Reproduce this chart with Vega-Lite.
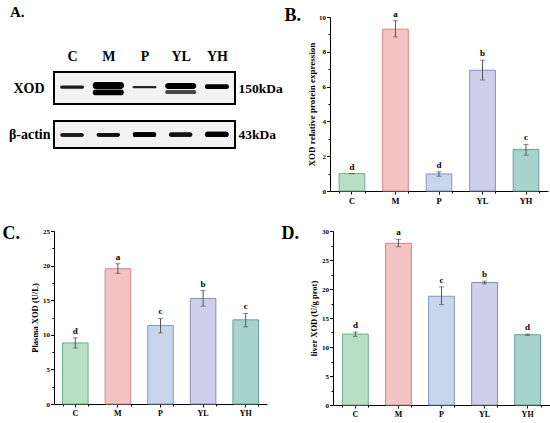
{
  "$schema": "https://vega.github.io/schema/vega-lite/v6.json",
  "background": "white",
  "padding": {"left": 2, "top": 5, "right": 0, "bottom": 0},
  "config": {
    "font": "Liberation Serif",
    "view": {"stroke": null},
    "axis": {
      "labelFont": "Liberation Serif",
      "titleFont": "Liberation Serif",
      "labelFontWeight": "bold",
      "titleFontWeight": "bold",
      "labelColor": "black",
      "titleColor": "black",
      "domainColor": "black",
      "tickColor": "black",
      "labelOverlap": false,
      "grid": false
    },
    "title": {"font": "Liberation Serif", "fontWeight": "bold", "color": "black"}
  },
  "datasets": {
    "blot": [
      {"protein": "XOD", "lane": "C", "lo": 0.48, "hi": 0.58, "intensity": 0.9},
      {"protein": "XOD", "lane": "M", "lo": 0.47, "hi": 0.69, "intensity": 1.0},
      {"protein": "XOD", "lane": "M", "lo": 0.27, "hi": 0.45, "intensity": 1.0},
      {"protein": "XOD", "lane": "P", "lo": 0.49, "hi": 0.56, "intensity": 0.85},
      {"protein": "XOD", "lane": "YL", "lo": 0.47, "hi": 0.66, "intensity": 1.0},
      {"protein": "XOD", "lane": "YL", "lo": 0.31, "hi": 0.44, "intensity": 0.7},
      {"protein": "XOD", "lane": "YH", "lo": 0.47, "hi": 0.62, "intensity": 1.0},
      {"protein": "actin", "lane": "C", "lo": 0.42, "hi": 0.55, "intensity": 0.9},
      {"protein": "actin", "lane": "M", "lo": 0.42, "hi": 0.56, "intensity": 0.95},
      {"protein": "actin", "lane": "P", "lo": 0.41, "hi": 0.58, "intensity": 1.0},
      {"protein": "actin", "lane": "YL", "lo": 0.42, "hi": 0.57, "intensity": 0.95},
      {"protein": "actin", "lane": "YH", "lo": 0.41, "hi": 0.6, "intensity": 1.0}
    ],
    "expr": [
      {"group": "C", "mean": 1.0, "lo": 1.0, "hi": 1.0, "letter": "d"},
      {"group": "M", "mean": 9.3, "lo": 8.86, "hi": 9.79, "letter": "a"},
      {"group": "P", "mean": 0.98, "lo": 0.85, "hi": 1.1, "letter": "d"},
      {"group": "YL", "mean": 6.94, "lo": 6.38, "hi": 7.52, "letter": "b"},
      {"group": "YH", "mean": 2.39, "lo": 2.06, "hi": 2.68, "letter": "c"}
    ],
    "plasma": [
      {"group": "C", "mean": 8.83, "lo": 8.1, "hi": 9.56, "letter": "d"},
      {"group": "M", "mean": 19.55, "lo": 18.87, "hi": 20.27, "letter": "a"},
      {"group": "P", "mean": 11.34, "lo": 10.28, "hi": 12.36, "letter": "c"},
      {"group": "YL", "mean": 15.25, "lo": 14.14, "hi": 16.4, "letter": "b"},
      {"group": "YH", "mean": 12.16, "lo": 11.15, "hi": 13.08, "letter": "c"}
    ],
    "liver": [
      {"group": "C", "mean": 12.23, "lo": 11.83, "hi": 12.58, "letter": "d"},
      {"group": "M", "mean": 27.87, "lo": 27.29, "hi": 28.56, "letter": "a"},
      {"group": "P", "mean": 18.75, "lo": 17.31, "hi": 20.37, "letter": "c"},
      {"group": "YL", "mean": 21.12, "lo": 20.89, "hi": 21.35, "letter": "b"},
      {"group": "YH", "mean": 12.12, "lo": 12.0, "hi": 12.23, "letter": "d"}
    ]
  },
  "spacing": 20,
  "vconcat": [
    {
      "spacing": 0,
      "hconcat": [
        {
          "spacing": 8,
          "vconcat": [
            {
              "width": 181,
              "height": 30,
              "title": {"text": "A.", "anchor": "start", "fontSize": 15, "offset": -3, "dx": -44},
              "data": {"name": "blot"},
              "transform": [{"filter": "datum.protein == 'actin'"}],
              "mark": {"type": "text", "text": ""},
              "encoding": {
                "x": {"field": "lane", "type": "nominal", "sort": null, "scale": {"domain": ["C", "M", "P", "YL", "YH"], "paddingInner": 0, "paddingOuter": 0}, "axis": {"orient": "bottom", "title": null, "domain": false, "ticks": false, "labelFontSize": 14, "labelPadding": 2, "labelAngle": 0}}
              }
            },
            {
              "width": 181,
              "height": 32,
              "view": {"fill": "#f3f3f3", "stroke": "black", "strokeWidth": 2},
              "data": {"name": "blot"},
              "transform": [{"filter": "datum.protein == 'XOD'"}],
              "layer": [
                {
                  "transform": [{"filter": "datum.lane != 'M' && datum.lane != 'YL'"}],
                  "mark": {"type": "bar", "width": {"band": 0.66}, "cornerRadius": 2},
                  "encoding": {
                    "x": {"field": "lane", "type": "nominal", "sort": null, "scale": {"domain": ["C", "M", "P", "YL", "YH"], "paddingInner": 0, "paddingOuter": 0}, "axis": {"orient": "bottom", "title": null, "domain": false, "labels": false, "ticks": true, "tickSize": 6, "tickColor": "transparent"}},
                    "y": {"field": "lo", "type": "quantitative", "scale": {"domain": [0, 1]}, "axis": {"values": [0.5], "labelExpr": "'XOD'", "title": null, "domain": false, "ticks": false, "labelFontSize": 14, "labelPadding": 10}},
                    "y2": {"field": "hi"},
                    "color": {"field": "intensity", "type": "quantitative", "scale": {"domain": [0, 1], "range": ["#ffffff", "#000000"]}, "legend": null}
                  }
                },
                {
                  "transform": [{"filter": "datum.lane == 'M' || datum.lane == 'YL'"}],
                  "mark": {"type": "bar", "width": {"band": 0.86}, "cornerRadius": 3},
                  "encoding": {
                    "x": {"field": "lane", "type": "nominal", "sort": null, "scale": {"domain": ["C", "M", "P", "YL", "YH"], "paddingInner": 0, "paddingOuter": 0}, "axis": {"orient": "bottom", "title": null, "domain": false, "labels": false, "ticks": true, "tickSize": 6, "tickColor": "transparent"}},
                    "y": {"field": "lo", "type": "quantitative", "scale": {"domain": [0, 1]}, "axis": {"orient": "right", "values": [0.5], "labelExpr": "'150kDa'", "title": null, "domain": false, "ticks": false, "labelFontSize": 13.5, "labelPadding": 3}},
                    "y2": {"field": "hi"},
                    "color": {"field": "intensity", "type": "quantitative", "scale": {"domain": [0, 1], "range": ["#ffffff", "#000000"]}, "legend": null}
                  }
                }
              ],
              "resolve": {"axis": {"y": "independent"}}
            },
            {
              "width": 181,
              "height": 27,
              "view": {"fill": "#f3f3f3", "stroke": "black", "strokeWidth": 2},
              "data": {"name": "blot"},
              "transform": [{"filter": "datum.protein == 'actin'"}],
              "layer": [
                {
                  "mark": {"type": "bar", "width": {"band": 0.64}, "cornerRadius": 2},
                  "encoding": {
                    "x": {"field": "lane", "type": "nominal", "sort": null, "scale": {"domain": ["C", "M", "P", "YL", "YH"], "paddingInner": 0, "paddingOuter": 0}, "axis": null},
                    "y": {"field": "lo", "type": "quantitative", "scale": {"domain": [0, 1]}, "axis": {"values": [0.5], "labelExpr": "'β-actin'", "title": null, "domain": false, "ticks": false, "labelFontSize": 14, "labelPadding": 4}},
                    "y2": {"field": "hi"},
                    "color": {"field": "intensity", "type": "quantitative", "scale": {"domain": [0, 1], "range": ["#ffffff", "#000000"]}, "legend": null}
                  }
                },
                {
                  "mark": {"type": "bar", "width": {"band": 0.64}, "cornerRadius": 2},
                  "encoding": {
                    "x": {"field": "lane", "type": "nominal", "sort": null, "scale": {"domain": ["C", "M", "P", "YL", "YH"], "paddingInner": 0, "paddingOuter": 0}, "axis": null},
                    "y": {"field": "lo", "type": "quantitative", "scale": {"domain": [0, 1]}, "axis": {"orient": "right", "values": [0.5], "labelExpr": "'43kDa'", "title": null, "domain": false, "ticks": false, "labelFontSize": 13.5, "labelPadding": 3}},
                    "y2": {"field": "hi"},
                    "color": {"field": "intensity", "type": "quantitative", "scale": {"domain": [0, 1], "range": ["#ffffff", "#000000"]}, "legend": null}
                  }
                }
              ],
              "resolve": {"axis": {"y": "independent"}}
            }
          ]
        },
        {
          "width": 218,
          "height": 174,
          "title": {"text": "B.", "orient": "left", "angle": 0, "anchor": "end", "baseline": "top", "fontSize": 18, "offset": -10, "dy": -3},
          "data": {"name": "expr"},
          "layer": [
            {
              "mark": {"type": "bar", "strokeWidth": 1},
              "encoding": {
                "x": {"field": "group", "type": "nominal", "sort": null, "scale": {"paddingInner": 0.41, "paddingOuter": 0.21}, "axis": {"title": null, "labelAngle": 0, "labelFontSize": 8.5, "tickSize": 3, "labelPadding": 2}},
                "y": {"field": "mean", "type": "quantitative", "scale": {"domain": [0, 10], "nice": false}, "axis": {"title": "XOD relative protein expression", "values": [0, 2, 4, 6, 8, 10], "labelOverlap": false, "labelFontSize": 7, "titleFontSize": 9, "tickSize": 3.5, "labelPadding": 1, "titlePadding": 2}},
                "fill": {"field": "group", "type": "nominal", "scale": {"domain": ["C", "M", "P", "YL", "YH"], "range": ["#b8dfc3", "#f4c3c3", "#c8d6ec", "#cfcfec", "#a7d4ca"]}, "legend": null},
                "stroke": {"field": "group", "type": "nominal", "scale": {"domain": ["C", "M", "P", "YL", "YH"], "range": ["#6fae85", "#d98585", "#8497c4", "#8c8bc2", "#64a397"]}, "legend": null}
              }
            },
            {
              "mark": {"type": "errorbar", "ticks": {"size": 5}, "color": "#555555"},
              "encoding": {
                "x": {"field": "group", "type": "nominal", "sort": null, "axis": null},
                "y": {"field": "lo", "type": "quantitative", "axis": null},
                "y2": {"field": "hi"}
              }
            },
            {
              "mark": {"type": "text", "dy": -7, "fontWeight": "bold", "fontSize": 9, "font": "Liberation Serif", "color": "black"},
              "encoding": {
                "x": {"field": "group", "type": "nominal", "sort": null, "axis": {"orient": "bottom", "title": null, "labels": false, "domain": false, "tickBand": "extent", "tickSize": 2}},
                "y": {"field": "hi", "type": "quantitative", "axis": {"orient": "left", "title": null, "labels": false, "domain": false, "values": [1, 3, 5, 7, 9], "tickSize": 2}},
                "text": {"field": "letter"}
              }
            }
          ],
          "resolve": {"axis": {"x": "independent", "y": "independent"}}
        }
      ]
    },
    {
      "spacing": 14,
      "hconcat": [
        {
          "width": 213,
          "height": 173,
          "title": {"text": "C.", "orient": "left", "angle": 0, "anchor": "end", "baseline": "top", "fontSize": 18, "offset": -7, "dy": -2},
          "data": {"name": "plasma"},
          "layer": [
            {
              "mark": {"type": "bar", "strokeWidth": 1},
              "encoding": {
                "x": {"field": "group", "type": "nominal", "sort": null, "scale": {"paddingInner": 0.4, "paddingOuter": 0.2}, "axis": {"title": null, "labelAngle": 0, "labelFontSize": 8, "tickSize": 3, "labelPadding": 2}},
                "y": {"field": "mean", "type": "quantitative", "scale": {"domain": [0, 25], "nice": false}, "axis": {"title": "Plasma XOD (U/L)", "values": [0, 5, 10, 15, 20, 25], "labelOverlap": false, "labelFontSize": 7, "titleFontSize": 8.5, "tickSize": 3.5, "labelPadding": 1, "titlePadding": 3}},
                "fill": {"field": "group", "type": "nominal", "scale": {"domain": ["C", "M", "P", "YL", "YH"], "range": ["#b8dfc3", "#f4c3c3", "#c8d6ec", "#cfcfec", "#a7d4ca"]}, "legend": null},
                "stroke": {"field": "group", "type": "nominal", "scale": {"domain": ["C", "M", "P", "YL", "YH"], "range": ["#6fae85", "#d98585", "#8497c4", "#8c8bc2", "#64a397"]}, "legend": null}
              }
            },
            {
              "mark": {"type": "errorbar", "ticks": {"size": 5}, "color": "#555555"},
              "encoding": {
                "x": {"field": "group", "type": "nominal", "sort": null, "axis": null},
                "y": {"field": "lo", "type": "quantitative", "axis": null},
                "y2": {"field": "hi"}
              }
            },
            {
              "mark": {"type": "text", "dy": -7, "fontWeight": "bold", "fontSize": 9, "font": "Liberation Serif", "color": "black"},
              "encoding": {
                "x": {"field": "group", "type": "nominal", "sort": null, "axis": {"orient": "bottom", "title": null, "labels": false, "domain": false, "tickBand": "extent", "tickSize": 2}},
                "y": {"field": "hi", "type": "quantitative", "axis": {"orient": "left", "title": null, "labels": false, "domain": false, "values": [2.5, 7.5, 12.5, 17.5, 22.5], "tickSize": 2}},
                "text": {"field": "letter"}
              }
            }
          ],
          "resolve": {"axis": {"x": "independent", "y": "independent"}}
        },
        {
          "width": 217,
          "height": 174,
          "title": {"text": "D.", "orient": "left", "angle": 0, "anchor": "end", "baseline": "top", "fontSize": 18, "offset": -7, "dy": -2},
          "data": {"name": "liver"},
          "layer": [
            {
              "mark": {"type": "bar", "strokeWidth": 1},
              "encoding": {
                "x": {"field": "group", "type": "nominal", "sort": null, "scale": {"paddingInner": 0.4, "paddingOuter": 0.22}, "axis": {"title": null, "labelAngle": 0, "labelFontSize": 8, "tickSize": 3, "labelPadding": 2}},
                "y": {"field": "mean", "type": "quantitative", "scale": {"domain": [0, 30], "nice": false}, "axis": {"title": "liver XOD (U/g prot)", "values": [0, 5, 10, 15, 20, 25, 30], "labelOverlap": false, "labelFontSize": 7, "titleFontSize": 8.5, "tickSize": 3.5, "labelPadding": 1, "titlePadding": 3}},
                "fill": {"field": "group", "type": "nominal", "scale": {"domain": ["C", "M", "P", "YL", "YH"], "range": ["#b8dfc3", "#f4c3c3", "#c8d6ec", "#cfcfec", "#a7d4ca"]}, "legend": null},
                "stroke": {"field": "group", "type": "nominal", "scale": {"domain": ["C", "M", "P", "YL", "YH"], "range": ["#6fae85", "#d98585", "#8497c4", "#8c8bc2", "#64a397"]}, "legend": null}
              }
            },
            {
              "mark": {"type": "errorbar", "ticks": {"size": 5}, "color": "#555555"},
              "encoding": {
                "x": {"field": "group", "type": "nominal", "sort": null, "axis": null},
                "y": {"field": "lo", "type": "quantitative", "axis": null},
                "y2": {"field": "hi"}
              }
            },
            {
              "mark": {"type": "text", "dy": -7, "fontWeight": "bold", "fontSize": 9, "font": "Liberation Serif", "color": "black"},
              "encoding": {
                "x": {"field": "group", "type": "nominal", "sort": null, "axis": {"orient": "bottom", "title": null, "labels": false, "domain": false, "tickBand": "extent", "tickSize": 2}},
                "y": {"field": "hi", "type": "quantitative", "axis": {"orient": "left", "title": null, "labels": false, "domain": false, "values": [2.5, 7.5, 12.5, 17.5, 22.5, 27.5], "tickSize": 2}},
                "text": {"field": "letter"}
              }
            }
          ],
          "resolve": {"axis": {"x": "independent", "y": "independent"}}
        }
      ]
    }
  ]
}
